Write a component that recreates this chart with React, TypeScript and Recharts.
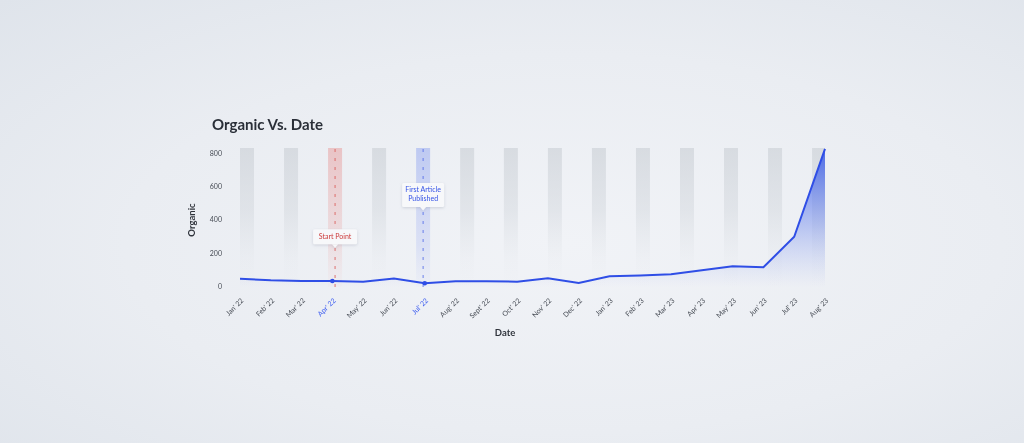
import React from "react";
import {
  ComposedChart,
  Area,
  Line,
  XAxis,
  YAxis,
  ReferenceArea,
  ReferenceLine,
  ReferenceDot,
} from "recharts";

const months = [
  "Jan' 22", "Feb' 22", "Mar' 22", "Apr' 22", "May' 22", "Jun' 22", "Jul' 22",
  "Aug' 22", "Sept' 22", "Oct' 22", "Nov' 22", "Dec' 22", "Jan' 23", "Feb' 23",
  "Mar' 23", "Apr' 23", "May' 23", "Jun' 23", "Jul' 23", "Aug' 23",
];
const organic = [50, 40, 36, 36, 32, 50, 22, 34, 35, 32, 52, 24, 64, 68, 76, 100, 124, 118, 300, 825];
const yTicks = [0, 200, 400, 600, 800];
const highlightedMonths = [3, 6];
// background band start positions, in month-index units
const bandStarts = [0, 1.43, 2.86, 4.29, 5.72, 7.15, 8.57, 10.0, 11.43, 12.86, 14.29, 15.72, 17.15, 18.58];
const startBand = 2;
const articleBand = 4;
const startLabel = ["Start Point"];
const articleLabel = ["First Article", "Published"];

const data = months.map((m, i) => ({ i, month: m, organic: organic[i] }));

const BAND_W = 0.455;
const X_MAX = months.length - 1;
const BLUE = "#2f4ee6";

const XTick = (props: any) => {
  const { x, y, payload } = props;
  const idx = payload.value as number;
  const hl = highlightedMonths.includes(idx);
  const tx = x + 4;
  const ty = y + 14;
  return (
    <text
      x={tx}
      y={ty}
      transform={`rotate(-45, ${tx}, ${ty})`}
      textAnchor="end"
      fontSize={7}
      fontFamily="Lato, sans-serif"
      fill={hl ? "#3d5df0" : "#474c55"}
    >
      {months[idx]}
    </text>
  );
};

const Callout = (lines: string[], color: string, w: number) => (props: any) => {
  const { cx, cy } = props;
  const h = lines.length * 9 + 6;
  const x0 = cx - w / 2;
  const y0 = cy - h / 2;
  return (
    <g>
      <g filter="url(#shadow)">
        <rect x={x0} y={y0} width={w} height={h} rx={1.5} fill="#f7f8fa" />
        <polygon points={`${cx - 3},${y0 + h} ${cx + 3},${y0 + h} ${cx},${y0 + h + 3.5}`} fill="#f7f8fa" />
      </g>
      {lines.map((l, k) => (
        <text
          key={k}
          x={cx}
          y={y0 + 9.5 + k * 8.5}
          textAnchor="middle"
          fontSize={7}
          fontFamily="Lato, sans-serif"
          fill={color}
        >
          {l}
        </text>
      ))}
    </g>
  );
};

const renderDot = (props: any) => {
  const { cx, cy, index } = props;
  if (!highlightedMonths.includes(index)) return <g key={`d${index}`} />;
  return <circle key={`d${index}`} cx={cx} cy={cy} r={2.3} fill={BLUE} />;
};

const startX = bandStarts[startBand] + BAND_W / 2;
const articleX = bandStarts[articleBand] + BAND_W / 2;

export default function App() {
  return (
    <div
      style={{
        position: "fixed",
        left: 0,
        top: 0,
        width: 1024,
        height: 443,
        overflow: "hidden",
        background:
          "radial-gradient(ellipse at 55% 55%, #f1f3f7 0%, #eaedf2 55%, #dfe4eb 100%)",
        fontFamily: "Lato, sans-serif",
      }}
    >
      <div
        style={{
          position: "absolute",
          left: 212,
          top: 115,
          fontSize: 15,
          fontWeight: 700,
          color: "#2a2f38",
          whiteSpace: "nowrap",
        }}
      >
        Organic Vs. Date
      </div>
      <div
        style={{
          position: "absolute",
          left: 191,
          top: 220,
          transform: "translate(-50%, -50%) rotate(-90deg)",
          fontSize: 9.5,
          fontWeight: 700,
          color: "#30343c",
          whiteSpace: "nowrap",
        }}
      >
        Organic
      </div>
      <div
        style={{
          position: "absolute",
          left: 505,
          top: 332,
          transform: "translate(-50%, -50%)",
          fontSize: 9.5,
          fontWeight: 700,
          color: "#30343c",
        }}
      >
        Date
      </div>
      <div style={{ position: "absolute", left: 0, top: 0 }}>
        <ComposedChart
          width={1024}
          height={443}
          data={data}
          margin={{ top: 148, right: 199, bottom: 116, left: 210 }}
        >
          <defs>
            <linearGradient id="grayBand" x1="0" y1="0" x2="0" y2="1">
              <stop offset="0%" stopColor="#c9ced4" stopOpacity={0.6} />
              <stop offset="45%" stopColor="#cdd2d8" stopOpacity={0.4} />
              <stop offset="80%" stopColor="#d5d9de" stopOpacity={0.08} />
              <stop offset="100%" stopColor="#d5d9de" stopOpacity={0} />
            </linearGradient>
            <linearGradient id="redBand" x1="0" y1="0" x2="0" y2="1">
              <stop offset="0%" stopColor="#e7a0a0" stopOpacity={0.55} />
              <stop offset="70%" stopColor="#eab0b0" stopOpacity={0.28} />
              <stop offset="100%" stopColor="#efc0c0" stopOpacity={0.05} />
            </linearGradient>
            <linearGradient id="blueBand" x1="0" y1="0" x2="0" y2="1">
              <stop offset="0%" stopColor="#9fb0f0" stopOpacity={0.6} />
              <stop offset="70%" stopColor="#b0bdf2" stopOpacity={0.32} />
              <stop offset="100%" stopColor="#c0caf4" stopOpacity={0.05} />
            </linearGradient>
            <linearGradient id="areaFill" x1="0" y1="0" x2="0" y2="1">
              <stop offset="0%" stopColor="#3457e8" stopOpacity={0.85} />
              <stop offset="55%" stopColor="#5a78ec" stopOpacity={0.38} />
              <stop offset="100%" stopColor="#8ea2f2" stopOpacity={0} />
            </linearGradient>
            <filter id="shadow" x="-30%" y="-50%" width="160%" height="220%">
              <feDropShadow dx="0" dy="1" stdDeviation="1.6" floodColor="#8a93a6" floodOpacity="0.35" />
            </filter>
          </defs>
          <XAxis
            dataKey="i"
            type="number"
            domain={[0, X_MAX]}
            ticks={months.map((_, i) => i)}
            interval={0}
            axisLine={false}
            tickLine={false}
            tickSize={0}
            tickMargin={0}
            height={40}
            tick={<XTick />}
          />
          <YAxis
            domain={[0, 830]}
            ticks={yTicks}
            axisLine={false}
            tickLine={false}
            tickSize={0}
            tickMargin={18}
            width={30}
            tick={{ fontSize: 7, fill: "#474c55", fontFamily: "Lato, sans-serif" }}
          />
          {bandStarts.map((b, k) => (
            <ReferenceArea
              key={k}
              x1={b}
              x2={Math.min(b + BAND_W, X_MAX)}
              fill={k === startBand ? "url(#redBand)" : k === articleBand ? "url(#blueBand)" : "url(#grayBand)"}
              fillOpacity={1}
              stroke="none"
            />
          ))}
          <Area
            type="linear"
            dataKey="organic"
            stroke="none"
            fill="url(#areaFill)"
            fillOpacity={1}
            isAnimationActive={false}
          />
          <ReferenceLine x={startX} stroke="#d9534f" strokeDasharray="3 6" strokeWidth={0.8} />
          <ReferenceLine x={articleX} stroke="#4a64e8" strokeDasharray="3 6" strokeWidth={0.8} />
          <Line
            type="linear"
            dataKey="organic"
            stroke={BLUE}
            strokeWidth={2}
            dot={renderDot}
            activeDot={false}
            isAnimationActive={false}
          />
          <ReferenceDot x={startX} y={300} r={0} shape={Callout(startLabel, "#cc3b3b", 44)} />
          <ReferenceDot x={articleX} y={550} r={0} shape={Callout(articleLabel, "#3452e6", 42)} />
        </ComposedChart>
      </div>
    </div>
  );
}
